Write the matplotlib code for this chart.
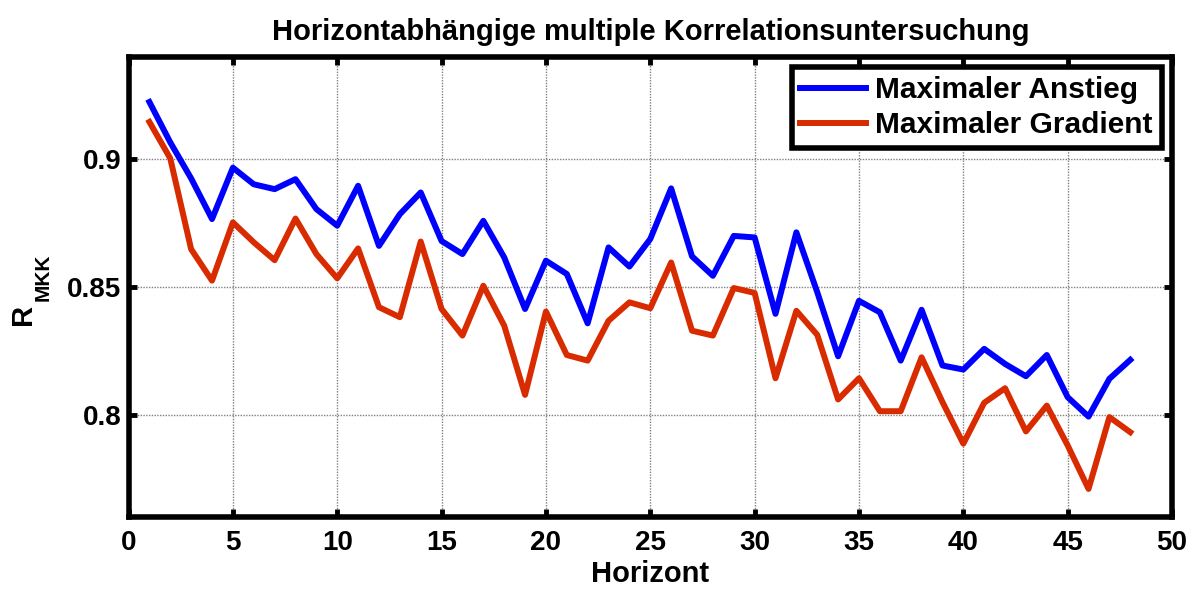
import numpy as np
import matplotlib
matplotlib.use("Agg")
import matplotlib.pyplot as plt

plt.rcParams['font.family'] = ['Liberation Sans', 'DejaVu Sans']
plt.rcParams['font.weight'] = 'bold'

# Horizont 1..48
horizont = np.arange(1, 49)

max_anstieg = [0.9224, 0.9066, 0.8925, 0.8766, 0.8967, 0.8902, 0.8883, 0.8922,
               0.8805, 0.8740, 0.8896, 0.8661, 0.8785, 0.8870, 0.8680, 0.8629,
               0.8759, 0.8616, 0.8414, 0.8603, 0.8551, 0.8358, 0.8655, 0.8580,
               0.8688, 0.8886, 0.8620, 0.8544, 0.8700, 0.8694, 0.8395, 0.8714,
               0.8480, 0.8229, 0.8446, 0.8401, 0.8212, 0.8411, 0.8193, 0.8177,
               0.8258, 0.8199, 0.8151, 0.8234, 0.8069, 0.7993, 0.8141, 0.8215]

max_gradient = [0.9146, 0.9003, 0.8648, 0.8525, 0.8753, 0.8675, 0.8605, 0.8768,
                0.8629, 0.8534, 0.8651, 0.8421, 0.8382, 0.8678, 0.8414, 0.8310,
                0.8505, 0.8349, 0.8078, 0.8404, 0.8234, 0.8212, 0.8368, 0.8440,
                0.8417, 0.8596, 0.8329, 0.8310, 0.8496, 0.8477, 0.8143, 0.8407,
                0.8313, 0.8060, 0.8143, 0.8014, 0.8014, 0.8225, 0.8050, 0.7887,
                0.8047, 0.8104, 0.7935, 0.8036, 0.7880, 0.7710, 0.7991, 0.7932]

fig = plt.figure(figsize=(11.99, 5.89), dpi=100)
ax = fig.add_axes([0.1072, 0.1222, 0.8703, 0.7810])

ax.plot(horizont, max_anstieg, color='#0000FF', lw=4.3, label='Maximaler Anstieg')
ax.plot(horizont, max_gradient, color='#D92B00', lw=4.3, label='Maximaler Gradient')

ax.set_xlim(0, 50)
ax.set_ylim(0.76, 0.94)
ax.set_xticks(np.arange(0, 51, 5))
ax.set_yticks([0.8, 0.85, 0.9])
ax.set_yticklabels(['0.8', '0.85', '0.9'])

ax.grid(True, color='#808080', linestyle=(0, (1, 1)), linewidth=1.0)
ax.tick_params(direction='in', length=6, width=3.5, labelsize=20,
               top=True, right=True)
ax.tick_params(axis='x', pad=9)
ax.tick_params(axis='y', pad=5)
for lab in ax.get_xticklabels() + ax.get_yticklabels():
    lab.set_fontweight('bold')
for sp in ax.spines.values():
    sp.set_linewidth(4)

ax.set_title('Horizontabhängige multiple Korrelationsuntersuchung',
             fontsize=21, fontweight='bold', pad=12)
ax.set_xlabel('Horizont', fontsize=21, fontweight='bold', labelpad=3)

# y label R with subscript MKK (Matlab style, subscript set well below)
fig.text(0.0195, 0.4669, 'R', rotation=90, ha='center', va='center',
         fontsize=21, fontweight='bold')
fig.text(0.0358, 0.5289, 'MKK', rotation=90, ha='center', va='center',
         fontsize=15, fontweight='bold')

leg = ax.legend(loc='upper right', fontsize=21.5, frameon=True, fancybox=False,
                handlelength=2.2, borderpad=0.3, labelspacing=0.22,
                handletextpad=0.3, borderaxespad=0.35)
leg.get_frame().set_edgecolor('black')
leg.get_frame().set_linewidth(4)
leg.get_frame().set_alpha(1)
for t in leg.get_texts():
    t.set_fontweight('bold')

fig.savefig('out.png', dpi=100)
